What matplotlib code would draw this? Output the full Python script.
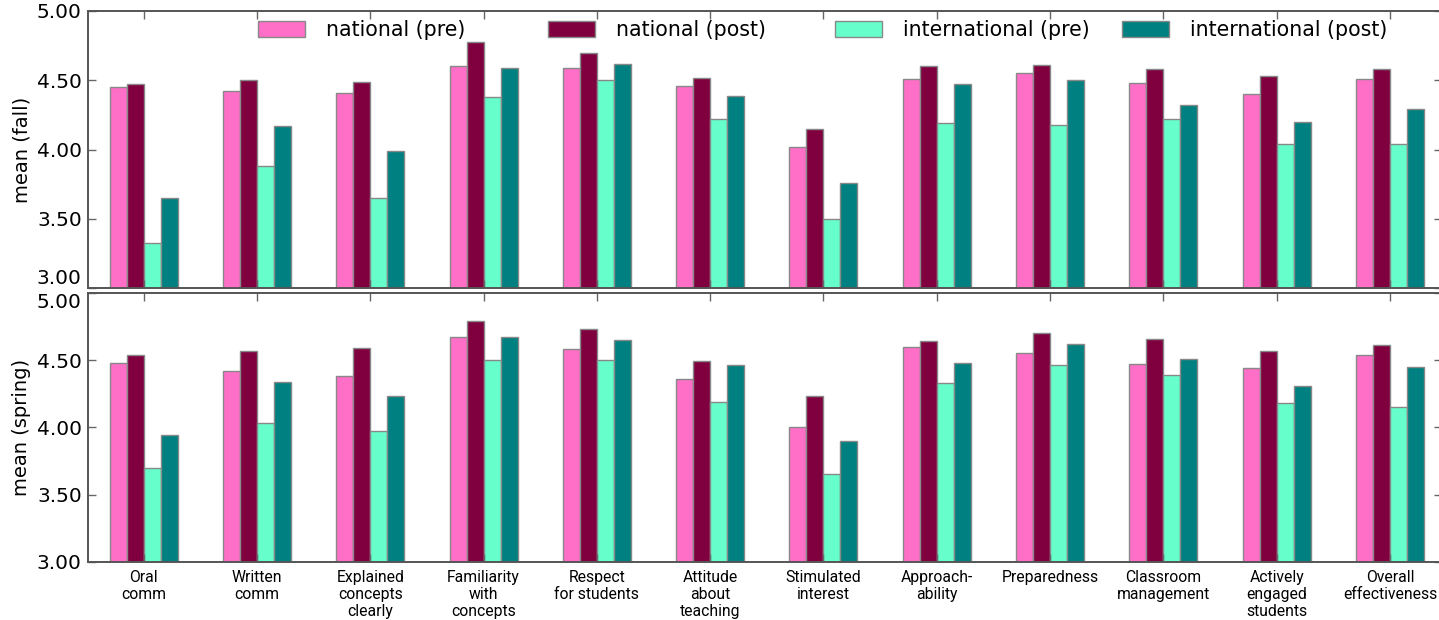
import numpy as np
import matplotlib.pyplot as plt
from matplotlib.patches import Patch
from matplotlib.legend import Legend

# ---------- data ----------
categories = [
    "Oral\ncomm", "Written\ncomm", "Explained\nconcepts\nclearly",
    "Familiarity\nwith\nconcepts", "Respect\nfor students", "Attitude\nabout\nteaching",
    "Stimulated\ninterest", "Approach-\nability", "Preparedness",
    "Classroom\nmanagement", "Actively\nengaged\nstudents", "Overall\neffectiveness",
]
series_names = ["national (pre)", "national (post)", "international (pre)", "international (post)"]

fall_nat_pre = [4.45, 4.42, 4.41, 4.60, 4.59, 4.46, 4.02, 4.51, 4.55, 4.48, 4.40, 4.51]
fall_nat_post = [4.47, 4.50, 4.49, 4.78, 4.70, 4.52, 4.15, 4.60, 4.61, 4.58, 4.53, 4.58]
fall_int_pre = [3.33, 3.88, 3.65, 4.38, 4.50, 4.22, 3.50, 4.19, 4.18, 4.22, 4.04, 4.04]
fall_int_post = [3.65, 4.17, 3.99, 4.59, 4.62, 4.39, 3.76, 4.47, 4.50, 4.32, 4.20, 4.29]

spring_nat_pre = [4.48, 4.42, 4.38, 4.67, 4.58, 4.36, 4.00, 4.60, 4.55, 4.47, 4.44, 4.54]
spring_nat_post = [4.54, 4.57, 4.59, 4.79, 4.73, 4.49, 4.23, 4.64, 4.70, 4.66, 4.57, 4.61]
spring_int_pre = [3.70, 4.03, 3.97, 4.50, 4.50, 4.19, 3.65, 4.33, 4.46, 4.39, 4.18, 4.15]
spring_int_post = [3.94, 4.34, 4.23, 4.67, 4.65, 4.46, 3.90, 4.48, 4.62, 4.51, 4.31, 4.45]

yticks = [3.0, 3.5, 4.0, 4.5, 5.0]
colors = ["#ff6ec7", "#80003f", "#66ffcc", "#008080"]

# ---------- plot ----------
W, H = 1439, 620
fig = plt.figure(figsize=(W / 100, H / 100), dpi=100)

def fx(px):
    return px / W

def fy(py):
    return 1 - py / H

left, right = 88, 1442
ax_top = fig.add_axes([fx(left), fy(288.3), fx(right - left), fy(11) - fy(288.3)])
ax_bot = fig.add_axes([fx(left), fy(561.7), fx(right - left), fy(292.9) - fy(561.7)])

x = np.arange(len(categories))
width = 0.15
offsets = np.array([-1.5, -0.5, 0.5, 1.5]) * width

panels = [
    (ax_top, [fall_nat_pre, fall_nat_post, fall_int_pre, fall_int_post], "mean (fall)"),
    (ax_bot, [spring_nat_pre, spring_nat_post, spring_int_pre, spring_int_post], "mean (spring)"),
]

for ax, vals, ylabel in panels:
    for off, v, c in zip(offsets, vals, colors):
        ax.bar(x + off, v, width, color=c, edgecolor="#888888", linewidth=1.0)
    ax.set_xlim(-0.492, 11.46)
    ax.set_ylim(3.0, 5.0)
    ax.set_yticks(yticks)
    ax.set_yticklabels(["%.2f" % t for t in yticks], fontsize=14.5)
    ax.set_xticks(x)
    ax.tick_params(direction="in", top=True, right=True, length=6, color="#666666",
                   width=1, pad=4.5)
    ax.set_ylabel(ylabel, fontsize=14, labelpad=4)
    for sp in ax.spines.values():
        sp.set_color("#555555")
        sp.set_linewidth(1.4)

# keep the touching 3.00 / 5.00 labels apart like the original
ax_top.get_yticklabels()[0].set_verticalalignment("bottom")
ax_bot.get_yticklabels()[-1].set_verticalalignment("top")

ax_top.set_xticklabels([])
ax_bot.set_xticklabels(categories, fontsize=11.3, family="Roboto", linespacing=1.15)
ax_bot.tick_params(axis="x", pad=6)

# legend: four evenly spaced entries across the top
col_starts = [258, 548, 835, 1122]
for px, c, name in zip(col_starts, colors, series_names):
    leg = Legend(
        ax_top,
        [Patch(facecolor=c, edgecolor="#888888", linewidth=1.0)], [name],
        loc="upper left",
        bbox_to_anchor=(fx(px), fy(20)),
        bbox_transform=fig.transFigure,
        frameon=False,
        fontsize=14.8,
        handlelength=2.29,
        handleheight=0.83,
        handletextpad=1.0,
        borderaxespad=0,
        borderpad=0,
    )
    ax_top.add_artist(leg)

fig.savefig("out.png", dpi=100)
